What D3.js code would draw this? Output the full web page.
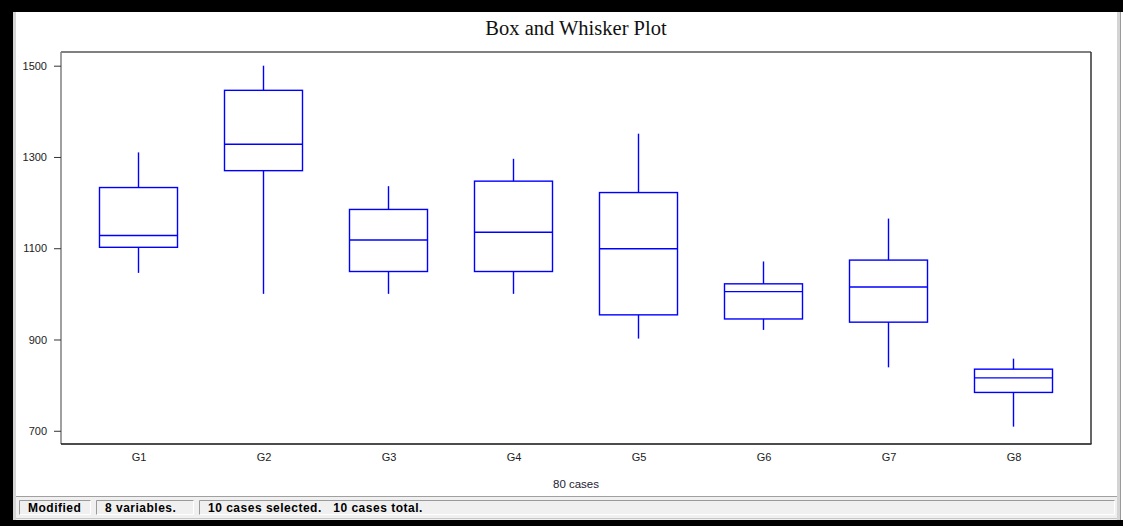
<!DOCTYPE html>
<html lang="en">
<head>
    <meta charset="utf-8">
    <title>Box and Whisker Plot</title>
    <script src="https://d3js.org/d3.v7.min.js"></script>
    <style>
        body { margin: 0; background: #000; }
        svg { display: block; }
    </style>
</head>
<body>
    <div id="container"></div>
    <script>
        // Data
        const groups = ["G1", "G2", "G3", "G4", "G5", "G6", "G7", "G8"];
        const whiskerLow = [1046, 1000, 1000, 1000, 902, 921, 839, 709];
        const q1 = [1102, 1270, 1049, 1049, 954, 945, 938, 784];
        const median = [1128, 1328, 1118, 1135, 1099, 1005, 1015, 816];
        const q3 = [1233, 1446, 1185, 1247, 1222, 1022, 1074, 835];
        const whiskerHigh = [1310, 1500, 1236, 1296, 1351, 1071, 1165, 858];
        const yTicks = [700, 900, 1100, 1300, 1500];
        const statusTexts = ["Modified", "8 variables.", "10 cases selected.   10 cases total."];

        const boxes = groups.map((g, i) => ({
            name: g, lo: whiskerLow[i], q1: q1[i], med: median[i], q3: q3[i], hi: whiskerHigh[i]
        }));

        // Dimensions
        const width = 1123, height = 526;
        const plot = { left: 61, top: 52, right: 1091, bottom: 444 };
        const boxWidth = 78;

        const svg = d3.select("#container").append("svg")
            .attr("width", width)
            .attr("height", height);

        // Window frame
        svg.append("rect").attr("width", width).attr("height", height).attr("fill", "#000");
        svg.append("rect")
            .attr("x", 13).attr("y", 12).attr("width", width - 13).attr("height", 508)
            .attr("fill", "#fff");
        svg.append("rect").attr("x", 13).attr("y", 12).attr("width", 3).attr("height", 508).attr("fill", "#d4d4d4");
        svg.append("rect").attr("x", 1117).attr("y", 12).attr("width", 3).attr("height", 508).attr("fill", "#d4d4d4");
        svg.append("line").attr("x1", 1120.5).attr("x2", 1120.5).attr("y1", 12).attr("y2", 520).attr("stroke", "#9a9a9a");

        // Scales
        const x = d3.scalePoint()
            .domain(groups)
            .range([plot.left, plot.right])
            .padding(0.62);

        const y = d3.scaleLinear()
            .domain([671, 1530])
            .range([plot.bottom, plot.top]);

        // Title
        svg.append("text")
            .attr("x", (plot.left + plot.right) / 2)
            .attr("y", 35)
            .attr("text-anchor", "middle")
            .attr("font-family", "'Liberation Serif', 'Times New Roman', serif")
            .attr("font-size", "20.5px")
            .attr("fill", "#111")
            .text("Box and Whisker Plot");

        // Plot frame: grey top/left, dark bottom/right
        const frame = svg.append("g");
        frame.append("line").attr("x1", plot.left).attr("x2", plot.right).attr("y1", plot.top).attr("y2", plot.top)
            .attr("stroke", "#808080").attr("stroke-width", 2);
        frame.append("line").attr("x1", plot.left).attr("x2", plot.left).attr("y1", plot.top).attr("y2", plot.bottom)
            .attr("stroke", "#808080").attr("stroke-width", 1.5);
        frame.append("line").attr("x1", plot.left).attr("x2", plot.right + 0.5).attr("y1", plot.bottom).attr("y2", plot.bottom)
            .attr("stroke", "#111").attr("stroke-width", 1.5);
        frame.append("line").attr("x1", plot.right).attr("x2", plot.right).attr("y1", plot.top).attr("y2", plot.bottom)
            .attr("stroke", "#333").attr("stroke-width", 1.5);

        // Y axis
        const yAxis = svg.append("g")
            .attr("transform", `translate(${plot.left},0)`)
            .call(d3.axisLeft(y).tickValues(yTicks).tickSize(7).tickPadding(7).tickFormat(d3.format("d")));
        yAxis.select(".domain").remove();
        yAxis.selectAll(".tick line").attr("stroke", "#333");
        yAxis.selectAll(".tick text")
            .attr("font-family", "'Liberation Sans', Arial, sans-serif")
            .attr("font-size", "11px")
            .attr("fill", "#222");

        // X axis labels
        const xAxis = svg.append("g")
            .attr("transform", `translate(0,${plot.bottom})`)
            .call(d3.axisBottom(x).tickSize(0).tickPadding(9));
        xAxis.select(".domain").remove();
        xAxis.selectAll(".tick text")
            .attr("font-family", "'Liberation Sans', Arial, sans-serif")
            .attr("font-size", "11px")
            .attr("fill", "#222");

        svg.append("text")
            .attr("x", (plot.left + plot.right) / 2)
            .attr("y", 488)
            .attr("text-anchor", "middle")
            .attr("font-family", "'Liberation Sans', Arial, sans-serif")
            .attr("font-size", "11.5px")
            .attr("fill", "#223")
            .text("80 cases");

        // Boxes
        const blue = "#0000ff";
        const g = svg.append("g")
            .attr("stroke", blue)
            .attr("stroke-width", 1.4)
            .attr("fill", "none");

        const bx = g.selectAll("g.box")
            .data(boxes)
            .join("g")
            .attr("class", "box");

        bx.append("line")
            .attr("x1", d => x(d.name)).attr("x2", d => x(d.name))
            .attr("y1", d => y(d.hi)).attr("y2", d => y(d.q3));
        bx.append("line")
            .attr("x1", d => x(d.name)).attr("x2", d => x(d.name))
            .attr("y1", d => y(d.q1)).attr("y2", d => y(d.lo));
        bx.append("rect")
            .attr("x", d => x(d.name) - boxWidth / 2)
            .attr("width", boxWidth)
            .attr("y", d => y(d.q3))
            .attr("height", d => y(d.q1) - y(d.q3));
        bx.append("line")
            .attr("x1", d => x(d.name) - boxWidth / 2).attr("x2", d => x(d.name) + boxWidth / 2)
            .attr("y1", d => y(d.med)).attr("y2", d => y(d.med));

        // Status bar
        const status = svg.append("g");
        status.append("rect")
            .attr("x", 16).attr("y", 496).attr("width", 1101).attr("height", 24)
            .attr("fill", "#f0f0f0");
        status.append("line").attr("x1", 16).attr("x2", 1117).attr("y1", 496.5).attr("y2", 496.5).attr("stroke", "#a0a0a0");
        status.append("line").attr("x1", 16).attr("x2", 1117).attr("y1", 518.5).attr("y2", 518.5).attr("stroke", "#c8c8c8");

        const panelX = [19, 96, 199];
        const panelW = [72, 98, 916];
        statusTexts.forEach((t, i) => {
            const p = status.append("g").attr("transform", `translate(${panelX[i]},500)`);
            p.append("rect").attr("width", panelW[i]).attr("height", 15).attr("fill", "#f0f0f0");
            p.append("path")
                .attr("d", `M0.5,15 V0.5 H${panelW[i]}`)
                .attr("stroke", "#9a9a9a").attr("fill", "none");
            p.append("path")
                .attr("d", `M${panelW[i] - 0.5},0.5 V14.5 H0.5`)
                .attr("stroke", "#fff").attr("fill", "none");
            p.append("text")
                .attr("x", 9).attr("y", 12)
                .attr("font-family", "'Liberation Sans', Arial, sans-serif")
                .attr("font-weight", "bold")
                .attr("font-size", "12px")
                .attr("letter-spacing", "0.5px")
                .attr("fill", "#000")
                .attr("xml:space", "preserve")
                .style("white-space", "pre")
                .text(t);
        });
    </script>
</body>
</html>
